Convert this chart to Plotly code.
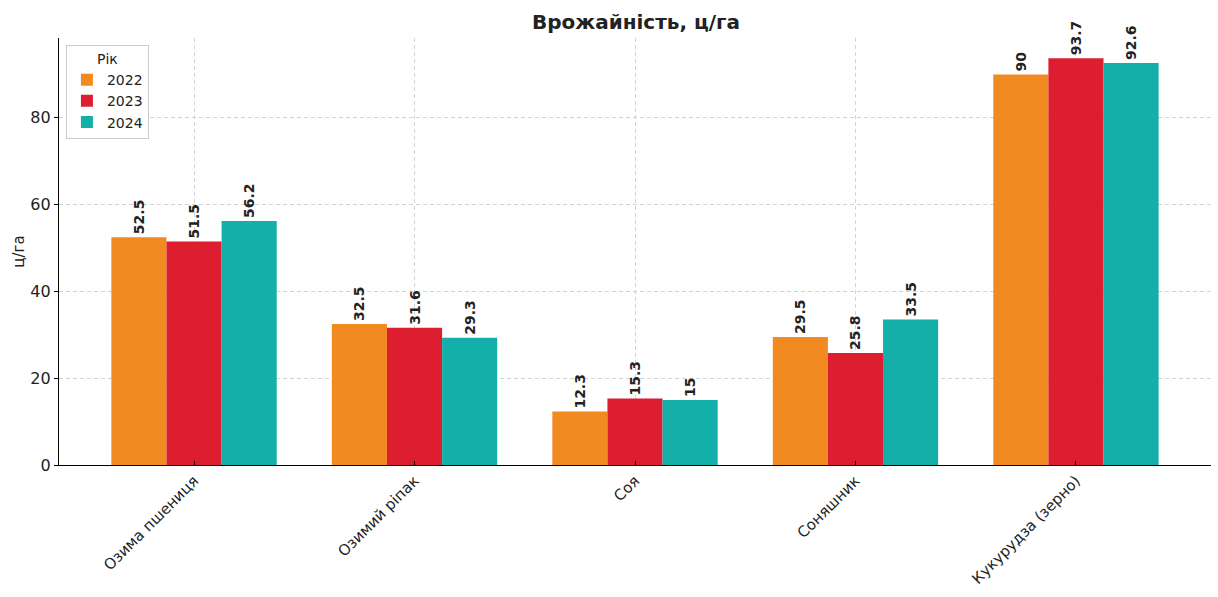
import plotly.graph_objects as go

# Crop yields by year, centners per hectare
crops = ["Озима пшениця", "Озимий ріпак", "Соя", "Соняшник", "Кукурудза (зерно)"]
years = ["2022", "2023", "2024"]
yield_2022 = [52.5, 32.5, 12.3, 29.5, 90]
yield_2023 = [51.5, 31.6, 15.3, 25.8, 93.7]
yield_2024 = [56.2, 29.3, 15, 33.5, 92.6]
colors = ["#F28A22", "#DC1E30", "#14AFA8"]

FONT = "DejaVu Sans"

fig = go.Figure()
for year, vals, col in zip(years, [yield_2022, yield_2023, yield_2024], colors):
    fig.add_trace(go.Bar(
        x=crops, y=vals, name=year,
        marker=dict(color=col, line=dict(width=0)),
        text=[f"{v:g}" for v in vals],
        textposition="outside", textangle=-90,
        textfont=dict(family=FONT, size=14, color="#222222", weight="bold"),
        constraintext="none", cliponaxis=False,
    ))

ymax = max(max(yield_2022), max(yield_2023), max(yield_2024)) * 1.05

fig.update_layout(
    width=1218, height=597,
    paper_bgcolor="white", plot_bgcolor="white",
    margin=dict(l=59, r=7, t=38, b=132),
    barmode="group", bargap=0.25, bargroupgap=0,
    font=dict(family=FONT, size=14, color="#222222"),
    title=dict(text="<b>Врожайність, ц/га</b>", x=636 / 1218, xanchor="center",
               y=1 - 22 / 597, yanchor="middle", yref="container",
               font=dict(family=FONT, size=20, color="#222222")),
    legend=dict(
        title=dict(text="Рік", side="top center", font=dict(size=14)),
        x=0.006, y=0.984, xanchor="left", yanchor="top",
        bgcolor="white", bordercolor="#cccccc", borderwidth=1,
        font=dict(size=14), tracegroupgap=0,
    ),
    showlegend=True,
)

fig.update_xaxes(
    range=[-0.6125, 4.6125], automargin=False,
    showline=True, linecolor="black", linewidth=1.3,
    ticks="inside", ticklen=4, tickcolor="black",
    tickangle=-45, tickfont=dict(size=15),
    showgrid=True, gridcolor="#d3d3d3", griddash="4px,3px", gridwidth=0.8,
    zeroline=False,
)
fig.update_yaxes(
    range=[0, ymax], automargin=False,
    showline=True, linecolor="black", linewidth=1.3,
    ticks="outside", ticklen=4, tickcolor="black",
    tickvals=[0, 20, 40, 60, 80], tickfont=dict(size=16),
    showgrid=True, gridcolor="#d3d3d3", griddash="4px,3px", gridwidth=0.8,
    zeroline=False,
    title=dict(text="ц/га", font=dict(size=15), standoff=2),
)

fig.write_html("out.html")
